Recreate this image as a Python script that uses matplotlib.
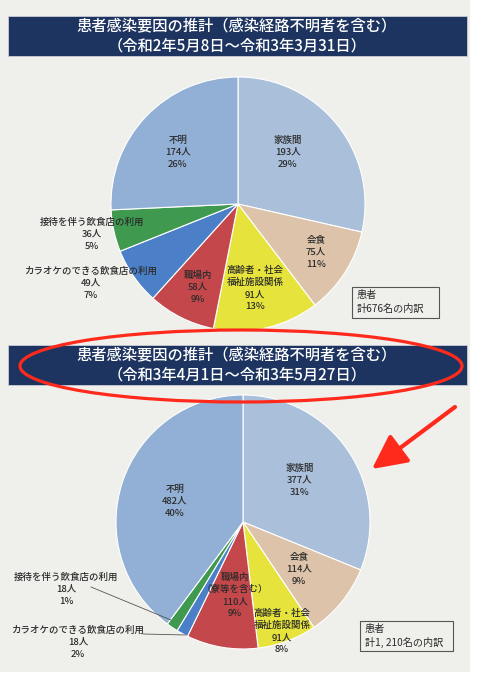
import matplotlib.pyplot as plt
import numpy as np
from matplotlib.patches import Rectangle, Ellipse, FancyArrowPatch

plt.rcParams['font.family'] = ['Noto Sans CJK JP', 'DejaVu Sans']

H = 679  # page height in px, y values below are measured from the top

# data
categories = ['家族間', '会食', '高齢者・社会福祉施設関係', '職場内',
              'カラオケのできる飲食店の利用', '接待を伴う飲食店の利用', '不明']
colors = ['#a9bfda', '#dcc3aa', '#e6e43c', '#c4484b', '#4b80c8', '#3f9a50', '#92b0d5']

counts_1 = [193, 75, 91, 58, 49, 36, 174]
pct_1 = ['29%', '11%', '13%', '9%', '7%', '5%', '26%']
counts_2 = [377, 114, 91, 110, 18, 18, 482]
pct_2 = ['31%', '9%', '8%', '9%', '2%', '1%', '40%']

title_1 = '患者感染要因の推計（感染経路不明者を含む）\n（令和2年5月8日～令和3年3月31日）'
title_2 = '患者感染要因の推計（感染経路不明者を含む）\n（令和3年4月1日～令和3年5月27日）'
box_1 = ['患者', '計676名の内訳']
box_2 = ['患者', '計1, 210名の内訳']

# label names (line split like the original)
names_1 = [['家族間'], ['会食'], ['高齢者・社会', '福祉施設関係'], ['職場内'],
           ['カラオケのできる飲食店の利用'], ['接待を伴う飲食店の利用'], ['不明']]
names_2 = [['家族間'], ['会食'], ['高齢者・社会', '福祉施設関係'], ['職場内', '（寮等を含む）'],
           ['カラオケのできる飲食店の利用'], ['接待を伴う飲食店の利用'], ['不明']]

# label anchor (x, first line y) in px from top-left
pos_1 = [(288, 140), (316, 240), (255, 270), (198, 275), (91, 271), (92, 222), (178, 140)]
pos_2 = [(300, 468), (299, 557), (282, 613), (235, 577), (78, 630), (66, 577), (175, 489)]

fig = plt.figure(figsize=(4.8, 6.79), dpi=100)
fig.patch.set_facecolor('white')
ax = fig.add_axes([0, 0, 1, 1])
ax.axis('off')

# paper
ax.add_patch(Rectangle((0, H - 672), 470, 672, facecolor='#efefeb', edgecolor='none', zorder=0))


def Y(y):
    return H - y


def banner(y_top, text):
    ax.add_patch(Rectangle((8, Y(y_top + 40)), 459, 40, facecolor='#1d3460',
                           edgecolor='#c8ccd4', lw=0.6, zorder=1))
    ax.text(237, Y(y_top + 20), text, ha='center', va='center', color='white',
            fontsize=11, fontweight='medium', linespacing=1.2, zorder=2)


def draw_pie(counts, pct, names, pos, center, r):
    ax.pie(counts, colors=colors, startangle=90, counterclock=False,
           center=(center[0], Y(center[1])), radius=r,
           wedgeprops=dict(edgecolor='white', linewidth=0.8))
    for cnt, p, nm, (x, y0) in zip(counts, pct, names, pos):
        lines = nm + [f'{cnt}人', p]
        for i, s in enumerate(lines):
            ax.text(x, Y(y0 + i * 12.3), s, ha='center', va='center',
                    fontsize=6.8, color='#2a2a2a', fontweight='medium', zorder=5)


def note_box(x, y, w, h, lines):
    ax.add_patch(Rectangle((x, Y(y + h)), w, h, facecolor='none',
                           edgecolor='#555555', lw=0.8, zorder=3))
    for i, s in enumerate(lines):
        ax.text(x + 5, Y(y + 8 + i * 13.5), s, ha='left', va='center',
                fontsize=7.3, color='#2a2a2a', zorder=4)


banner(16, title_1)
draw_pie(counts_1, pct_1, names_1, pos_1, (238, 204), 127)
note_box(352, 287, 87, 31, box_1)

banner(345, title_2)
draw_pie(counts_2, pct_2, names_2, pos_2, (243, 522), 127)
note_box(360, 621, 93, 30, box_2)

# leader lines, lower chart
ax.plot([91, 171], [Y(587), Y(620)], color='#555555', lw=0.6, zorder=4)
ax.plot([143, 186], [Y(634), Y(635)], color='#555555', lw=0.6, zorder=4)

# red highlight
ax.add_patch(Ellipse((241, Y(366)), 442, 72, fill=False, edgecolor='#ff2a1c',
                     lw=2.3, zorder=6))
ax.add_patch(FancyArrowPatch((455, Y(407)), (372, Y(469)),
                             arrowstyle='-|>,head_length=21,head_width=10.5',
                             mutation_scale=1, color='#ff2a1c', lw=3,
                             shrinkA=0, shrinkB=0, zorder=6))

ax.set_xlim(0, 480)
ax.set_ylim(0, H)
ax.set_aspect('auto')

plt.savefig('out.png', dpi=100, facecolor=fig.get_facecolor())
